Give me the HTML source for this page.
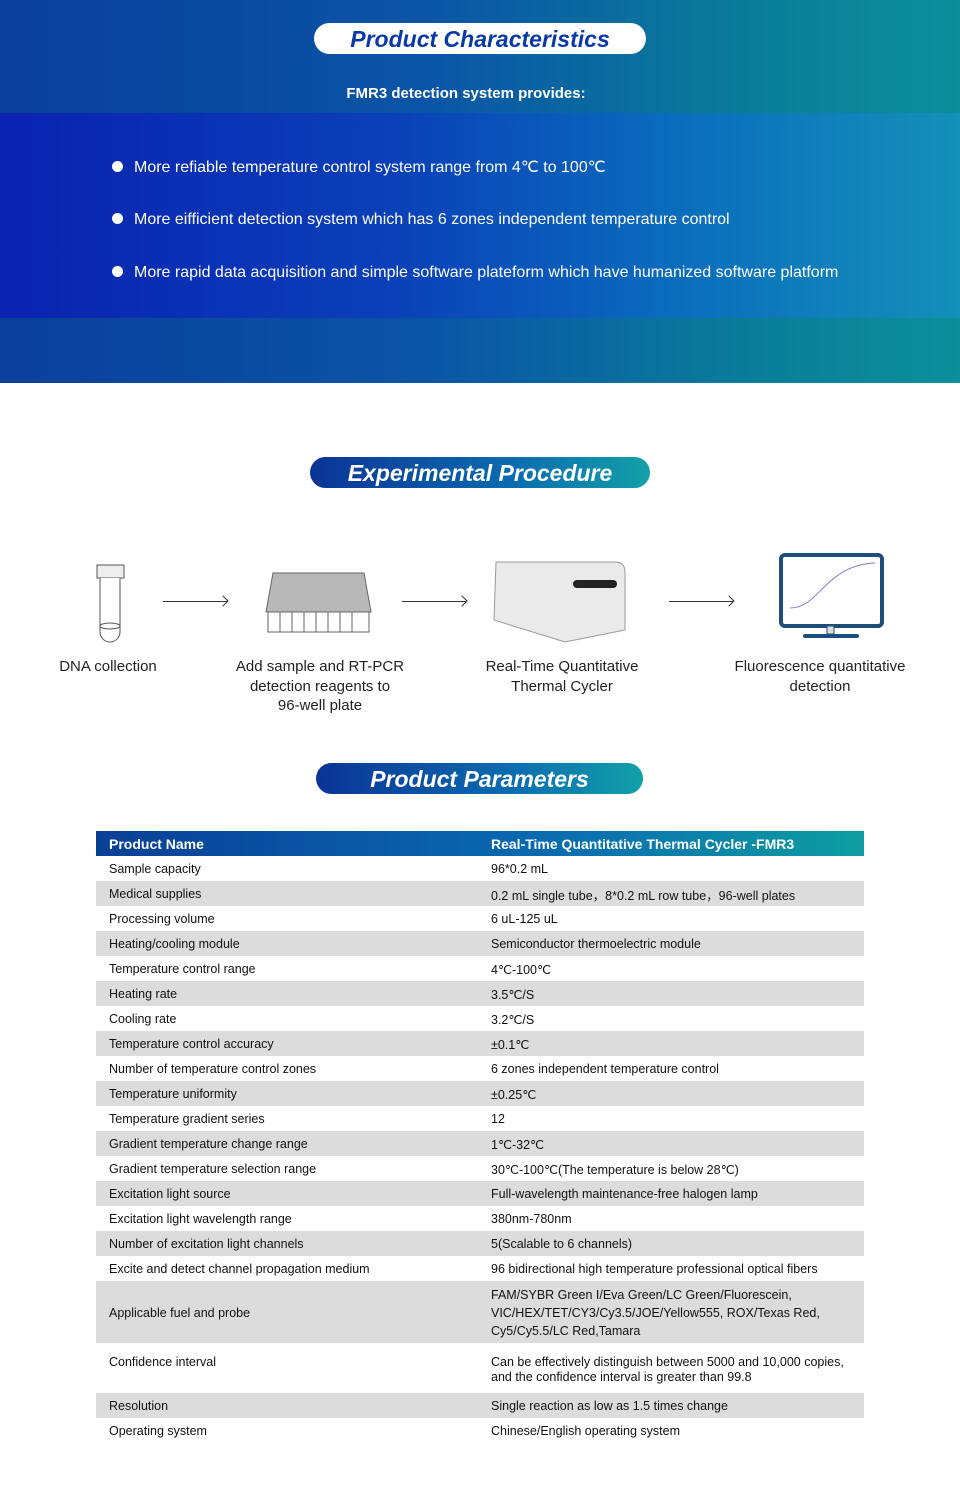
<!DOCTYPE html>
<html><head><meta charset="utf-8"><style>
*{margin:0;padding:0;box-sizing:border-box}
body{width:960px;height:1500px;position:relative;background:#fff;font-family:"Liberation Sans",sans-serif;overflow:hidden}
.top{position:absolute;left:0;top:0;width:960px;height:383px;background:linear-gradient(90deg,#0a3f9c 0%,#0a55a6 45%,#0a7f98 80%,#0c8f9a 100%)}
.band{position:absolute;left:0;top:113px;width:960px;height:205px;background:linear-gradient(90deg,#0a22b0 0%,#0a3fb8 40%,#0a6cbc 70%,#1590b8 100%)}
.pill1{position:absolute;left:314px;top:23px;width:332px;height:31px;border-radius:16px;background:#fff;text-align:center;font:italic bold 23px/32px "Liberation Sans",sans-serif;color:#0a3aa8}
.pill{position:absolute;height:31px;border-radius:16px;background:linear-gradient(90deg,#0a3496,#0a6cb0 60%,#13a0a8);text-align:center;color:#fff;font:italic bold 23px/32px "Liberation Sans",sans-serif}
.sub{position:absolute;top:85px;left:0;width:932px;text-align:center;color:#fff;font-weight:bold;font-size:15px}
.li{position:absolute;left:112px;color:#fff;font-size:16px}
.li:before{content:"";display:inline-block;width:11px;height:11px;border-radius:50%;background:#fff;margin-right:11px;vertical-align:0px}
.cap{position:absolute;text-align:center;font-size:15px;color:#222;line-height:19.5px}
.arr{position:absolute;height:1px;background:#333;width:64px}
.arr:after{content:"";position:absolute;right:0;top:-4px;width:7px;height:7px;border-top:1.5px solid #333;border-right:1.5px solid #333;transform:rotate(45deg)}
.hbg{position:absolute;left:96px;top:831px;width:768px;height:25px;background:linear-gradient(90deg,#0a3f96,#0a6cb0 60%,#0e9ea0)}
table{position:absolute;left:96px;top:831px;width:768px;border-collapse:collapse;font-size:12.5px;color:#111}
td{height:25px;padding:1px 0 0 13px;vertical-align:middle}
td:first-child{width:382px}
tr:nth-child(odd) td{background:#dcdcdc}
tr:nth-child(even) td{background:#fff}
tr.h td{background:transparent;color:#fff;font-weight:bold;font-size:14px}
</style></head><body>
<div class="top"></div><div class="band"></div>
<div class="pill1">Product Characteristics</div>
<div class="sub">FMR3 detection system provides:</div>
<div class="li" style="top:157px">More refiable temperature control system range from 4℃ to 100℃</div>
<div class="li" style="top:211px">More eifficient detection system which has 6 zones independent temperature control</div>
<div class="li" style="top:264px">More rapid data acquisition and simple software plateform which have humanized software platform</div>

<div class="pill" style="left:310px;top:457px;width:340px">Experimental Procedure</div>

<svg style="position:absolute;left:0;top:550px" width="960" height="100">
<rect x="97" y="15" width="27" height="13" fill="#eee" stroke="#555"/>
<path d="M100 28 V82 a10 10 0 0 0 20 0 V28" fill="#fff" stroke="#555"/>
<ellipse cx="110" cy="76" rx="10" ry="3" fill="none" stroke="#555"/>
<polygon points="273,23 364,23 371,62 266,62" fill="#b8b8b8" stroke="#666"/>
<rect x="268" y="62" width="101" height="20" fill="#fff" stroke="#666"/>
<g stroke="#666"><line x1="280" y1="62" x2="280" y2="82"/><line x1="292" y1="62" x2="292" y2="82"/><line x1="304" y1="62" x2="304" y2="82"/><line x1="316" y1="62" x2="316" y2="82"/><line x1="328" y1="62" x2="328" y2="82"/><line x1="340" y1="62" x2="340" y2="82"/><line x1="352" y1="62" x2="352" y2="82"/></g>
<path d="M496 12 H615 q10 0 10 10 V80 l-60 12 L494 70 Z" fill="#eaeaea" stroke="#999"/>
<rect x="573" y="30" width="44" height="8" rx="4" fill="#222"/>
<rect x="781" y="5" width="101" height="71" rx="4" fill="#fff" stroke="#1e4d7a" stroke-width="4"/>
<path d="M790 58 C820 58 825 15 875 13" fill="none" stroke="#7f7fd0"/>
<rect x="827" y="76" width="7" height="8" fill="#ddd" stroke="#1e4d7a"/>
<rect x="803" y="84" width="56" height="4" rx="2" fill="#1e4d7a"/>
</svg>
<div class="arr" style="left:163px;top:601px"></div>
<div class="arr" style="left:402px;top:601px"></div>
<div class="arr" style="left:669px;top:601px"></div>
<div class="cap" style="left:38px;top:657px;width:140px">DNA collection</div>
<div class="cap" style="left:220px;top:657px;width:200px">Add sample and RT-PCR<br>detection reagents to<br>96-well plate</div>
<div class="cap" style="left:462px;top:657px;width:200px">Real-Time Quantitative<br>Thermal Cycler</div>
<div class="cap" style="left:720px;top:657px;width:200px">Fluorescence quantitative<br>detection</div>

<div class="pill" style="left:316px;top:763px;width:327px">Product Parameters</div>

<div class="hbg"></div>
<table>
<tr class="h"><td>Product Name</td><td>Real-Time Quantitative Thermal Cycler -FMR3</td></tr>
<tr><td>Sample capacity</td><td>96*0.2 mL</td></tr>
<tr><td>Medical supplies</td><td>0.2 mL single tube，8*0.2 mL row tube，96-well plates</td></tr>
<tr><td>Processing volume</td><td>6 uL-125 uL</td></tr>
<tr><td>Heating/cooling module</td><td>Semiconductor thermoelectric module</td></tr>
<tr><td>Temperature control range</td><td>4℃-100℃</td></tr>
<tr><td>Heating rate</td><td>3.5℃/S</td></tr>
<tr><td>Cooling rate</td><td>3.2℃/S</td></tr>
<tr><td>Temperature control accuracy</td><td>±0.1℃</td></tr>
<tr><td>Number of temperature control zones</td><td>6 zones independent temperature control</td></tr>
<tr><td>Temperature uniformity</td><td>±0.25℃</td></tr>
<tr><td>Temperature gradient series</td><td>12</td></tr>
<tr><td>Gradient temperature change range</td><td>1℃-32℃</td></tr>
<tr><td>Gradient temperature selection range</td><td>30℃-100℃(The temperature is below 28℃)</td></tr>
<tr><td>Excitation light source</td><td>Full-wavelength maintenance-free halogen lamp</td></tr>
<tr><td>Excitation light wavelength range</td><td>380nm-780nm</td></tr>
<tr><td>Number of excitation light channels</td><td>5(Scalable to 6 channels)</td></tr>
<tr><td>Excite and detect channel propagation medium</td><td>96 bidirectional high temperature professional optical fibers</td></tr>
<tr><td style="height:62px">Applicable fuel and probe</td><td style="line-height:18px">FAM/SYBR Green I/Eva Green/LC Green/Fluorescein,<br>VIC/HEX/TET/CY3/Cy3.5/JOE/Yellow555, ROX/Texas Red,<br>Cy5/Cy5.5/LC Red,Tamara</td></tr>
<tr><td style="height:50px;vertical-align:top;padding-top:12px">Confidence interval</td><td style="vertical-align:top;padding-top:12px;line-height:15px">Can be effectively distinguish between 5000 and 10,000 copies,<br>and the confidence interval is greater than 99.8</td></tr>
<tr><td>Resolution</td><td>Single reaction as low as 1.5 times change</td></tr>
<tr><td>Operating system</td><td>Chinese/English operating system</td></tr>
</table>
</body></html>
